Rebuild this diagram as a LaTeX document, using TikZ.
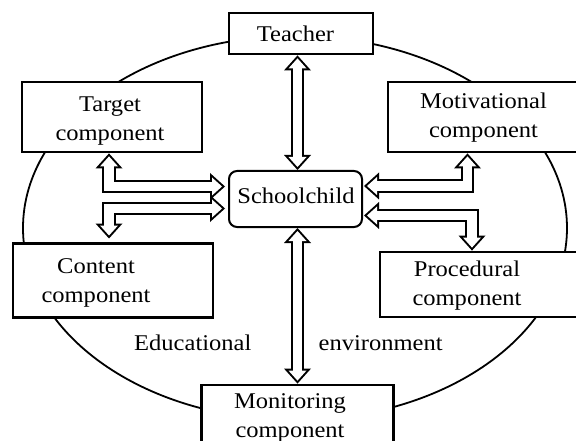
\documentclass[tikz,border=0pt]{standalone}
\usepackage{fontspec}
\setmainfont{Liberation Serif}[FakeStretch=1.09]
\usetikzlibrary{arrows.meta}
\newcommand\diagfont{\fontsize{22.5pt}{29pt}\selectfont}
\tikzset{
  box/.style={draw, line width=2.8pt, fill=white, inner sep=0pt},
  txt/.style={inner sep=0pt, align=center, font=\diagfont},
  dblarrow/.style={line width=13.5pt,
    {Triangle[length=15pt,width=27pt,line width=0pt]}-{Triangle[length=15pt,width=27pt,line width=0pt]},
    postaction={draw=white, line width=9.5pt,
      {Triangle[length=10pt,width=18pt,line width=0pt]}-{Triangle[length=10pt,width=18pt,line width=0pt]},
      shorten <=3pt, shorten >=3pt}}
}
\begin{document}
\begin{tikzpicture}[x=1pt,y=-1pt]
    \useasboundingbox (0,0) rectangle (576,441) ;
    \clip (0,0) rectangle (576,441) ;
    \draw [line width=1.8pt] (295,228) ellipse [x radius=272pt, y radius=192pt] ;
    \node [box, minimum width=144pt, minimum height=41pt] (teacher) at (301,33.5) {} ;
    \node [box, minimum width=180pt, minimum height=70pt] (target) at (112,117) {} ;
    \node [box, minimum width=204pt, minimum height=70pt] (motiv) at (490,117) {} ;
    \node [box, minimum width=200pt, minimum height=74pt] (content) at (113,280.5) {} ;
    \node [box, minimum width=212pt, minimum height=65pt] (proc) at (486,284.5) {} ;
    \node [box, minimum width=192pt, minimum height=76pt] (monit) at (297.5,423) {} ;
    \node [box, line width=2pt, rounded corners=8pt, minimum width=133pt, minimum height=56pt] (school) at (295.5,199) {} ;
    \node [txt, anchor=base] (teachertxt) at (295.5,41.7) {Teacher} ;
    \node [txt, anchor=base] (schooltxt) at (296,203.3) {Schoolchild} ;
    \node [txt] (targettxt) at (110,120.8) {Target\\component} ;
    \node [txt] (motivtxt) at (483.5,118) {Motivational\\component} ;
    \node [txt] (contenttxt) at (96,282.8) {Content\\component} ;
    \node [txt] (proctxt) at (467,285.6) {Procedural\\component} ;
    \node [txt] (monittxt) at (290,418.1) {Monitoring\\component} ;
    \node [txt, anchor=base] (edutxt) at (192.8,350.5) {Educational} ;
    \node [txt, anchor=base] (envtxt) at (380.6,350.7) {environment} ;
    \coordinate (lcol) at (109,0) ;
    \coordinate (mcol) at (467.5,0) ;
    \coordinate (pcol) at (472,0) ;
    \draw [dblarrow] ([xshift=2pt]school.north) -- ([xshift=2pt]school.north |- teacher.south) ;
    \draw [dblarrow] ([xshift=2pt]school.south) -- ([xshift=2pt]school.south |- monit.north) ;
    \draw [dblarrow] (target.south -| lcol) |- ([xshift=-3pt,yshift=12.5pt]school.west) ;
    \draw [dblarrow] ([xshift=-3pt,yshift=-9.5pt]school.west) -| ([yshift=3.6pt]content.north -| lcol) ;
    \draw [dblarrow] ([xshift=1pt,yshift=13pt]school.east) -| (motiv.south -| mcol) ;
    \draw [dblarrow] ([xshift=1pt,yshift=-16.5pt]school.east) -| (proc.north -| pcol) ;
\end{tikzpicture}
\end{document}
